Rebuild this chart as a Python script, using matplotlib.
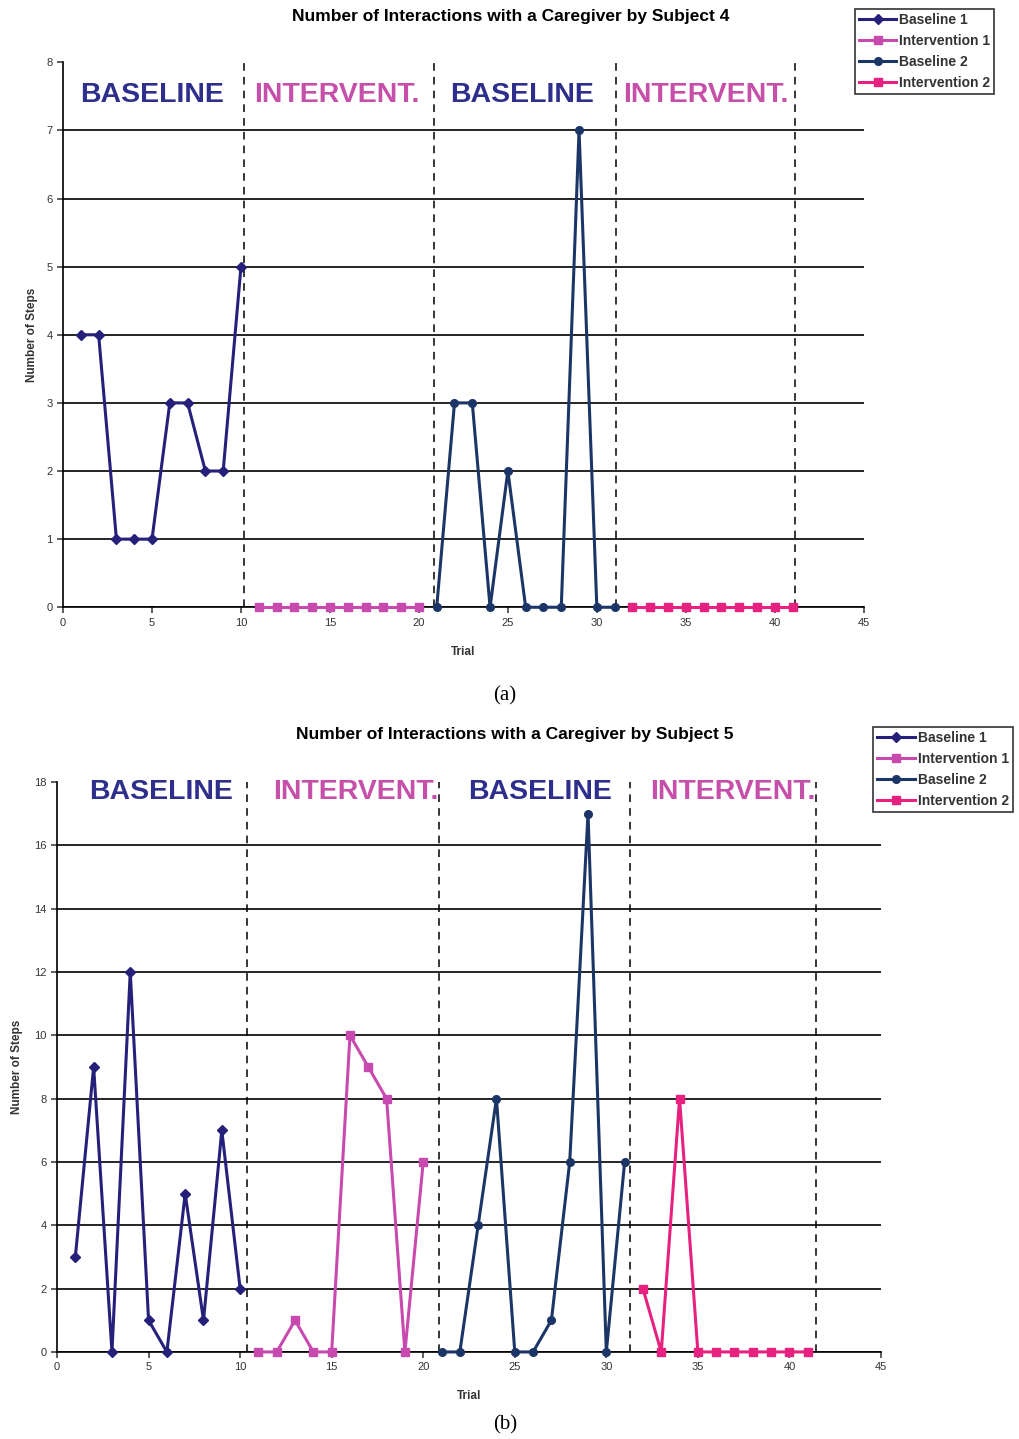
import matplotlib
matplotlib.use("Agg")
import matplotlib.pyplot as plt

plt.rcParams['font.family'] = ['Liberation Sans', 'DejaVu Sans']

# subject 4
s4_base1_x = [1, 2, 3, 4, 5, 6, 7, 8, 9, 10]
s4_base1_y = [4, 4, 1, 1, 1, 3, 3, 2, 2, 5]
s4_int1_x = [11, 12, 13, 14, 15, 16, 17, 18, 19, 20]
s4_int1_y = [0, 0, 0, 0, 0, 0, 0, 0, 0, 0]
s4_base2_x = [21, 22, 23, 24, 25, 26, 27, 28, 29, 30, 31]
s4_base2_y = [0, 3, 3, 0, 2, 0, 0, 0, 7, 0, 0]
s4_int2_x = [32, 33, 34, 35, 36, 37, 38, 39, 40, 41]
s4_int2_y = [0, 0, 0, 0, 0, 0, 0, 0, 0, 0]
s4_phase_lines = [10.15, 20.85, 31.05, 41.15]

# subject 5
s5_base1_x = [1, 2, 3, 4, 5, 6, 7, 8, 9, 10]
s5_base1_y = [3, 9, 0, 12, 1, 0, 5, 1, 7, 2]
s5_int1_x = [11, 12, 13, 14, 15, 16, 17, 18, 19, 20]
s5_int1_y = [0, 0, 1, 0, 0, 10, 9, 8, 0, 6]
s5_base2_x = [21, 22, 23, 24, 25, 26, 27, 28, 29, 30, 31]
s5_base2_y = [0, 0, 4, 8, 0, 0, 1, 6, 17, 0, 6]
s5_int2_x = [32, 33, 34, 35, 36, 37, 38, 39, 40, 41]
s5_int2_y = [2, 0, 8, 0, 0, 0, 0, 0, 0, 0]
s5_phase_lines = [10.4, 20.85, 31.3, 41.45]

series_labels = ['Baseline 1', 'Intervention 1', 'Baseline 2', 'Intervention 2']
phase_labels = ['BASELINE', 'INTERVENT.', 'BASELINE', 'INTERVENT.']

c_base1 = '#25207a'
c_int1 = '#c84aae'
c_base2 = '#1b3566'
c_int2 = '#e6217f'
c_txt_base = '#2e2f8c'
c_txt_int = '#c64fa9'


def draw_panel(ax, data, phase_x, phase_pos, ytop, ystep, ylabpad):
    styles = [(c_base1, 'D'), (c_int1, 's'), (c_base2, 'o'), (c_int2, 's')]
    lines = []
    for (x, y), (col, mk), lab in zip(data, styles, series_labels):
        ln, = ax.plot(x, y, color=col, marker=mk, markersize=5.5, lw=2.2,
                      label=lab, clip_on=False, zorder=4)
        lines.append(ln)
    for xv in phase_x:
        ax.axvline(xv, color='black', lw=1.1, ls=(0, (5, 4)), zorder=3)
    for (px, py), txt in zip(phase_pos, phase_labels):
        col = c_txt_base if txt == 'BASELINE' else c_txt_int
        ax.text(px, py, txt, color=col, fontsize=20.5, fontweight='bold',
                ha='center', va='center', zorder=5)
    ax.set_xlim(0, 45)
    ax.set_ylim(0, ytop)
    ax.set_xticks(range(0, 46, 5))
    ax.set_yticks(range(0, ytop + 1, ystep))
    ax.yaxis.grid(True, color='black', lw=1.2)
    ax.get_ygridlines()[-1].set_visible(False)
    ax.set_axisbelow(True)
    for s in ['top', 'right']:
        ax.spines[s].set_visible(False)
    for s in ['left', 'bottom']:
        ax.spines[s].set_linewidth(1.2)
    ax.tick_params(direction='out', length=4, width=1.1, labelsize=8, colors='#333333')
    ax.set_xlabel('Trial', fontsize=8.5, fontweight='bold', color='#333333', labelpad=13)
    ax.set_ylabel('Number of Steps', fontsize=8.5, fontweight='bold', color='#333333',
                  labelpad=ylabpad)
    return lines


fig = plt.figure(figsize=(10.2, 14.39), dpi=100)

ax1 = fig.add_axes([0.0618, 0.578, 0.785, 0.3787])
h1 = draw_panel(ax1,
                [(s4_base1_x, s4_base1_y), (s4_int1_x, s4_int1_y),
                 (s4_base2_x, s4_base2_y), (s4_int2_x, s4_int2_y)],
                s4_phase_lines,
                [(5.0, 7.52), (15.4, 7.52), (25.8, 7.52), (36.1, 7.52)],
                8, 1, 6)

ax2 = fig.add_axes([0.0559, 0.0605, 0.8078, 0.396])
h2 = draw_panel(ax2,
                [(s5_base1_x, s5_base1_y), (s5_int1_x, s5_int1_y),
                 (s5_base2_x, s5_base2_y), (s5_int2_x, s5_int2_y)],
                s5_phase_lines,
                [(5.7, 17.7), (16.3, 17.7), (26.4, 17.7), (36.9, 17.7)],
                18, 2, 8)

fig.text(511 / 1020, 1 - 16 / 1439, 'Number of Interactions with a Caregiver by Subject 4',
         fontsize=12.5, fontweight='bold', ha='center', va='center')
fig.text(515 / 1020, 1 - 735 / 1439, 'Number of Interactions with a Caregiver by Subject 5',
         fontsize=12.5, fontweight='bold', ha='center', va='center')

for h, anchor in [(h1, (0.838, 0.994)), (h2, (0.856, 0.495))]:
    leg = fig.legend(handles=h, loc='upper left', bbox_to_anchor=anchor,
                     fontsize=10, frameon=True, fancybox=False, edgecolor='black',
                     handlelength=2.7, borderpad=0.3, labelspacing=0.5,
                     handletextpad=0.2, borderaxespad=0)
    leg.get_frame().set_linewidth(1.2)
    for t in leg.get_texts():
        t.set_fontweight('bold')
        t.set_color('#333333')

fig.text(0.495, 1 - 696 / 1439, '(a)', family='Liberation Serif', fontsize=15,
         ha='center', va='center')
fig.text(0.495, 1 - 1425 / 1439, '(b)', family='Liberation Serif', fontsize=15,
         ha='center', va='center')

fig.savefig('out.png', dpi=100, facecolor='white')
